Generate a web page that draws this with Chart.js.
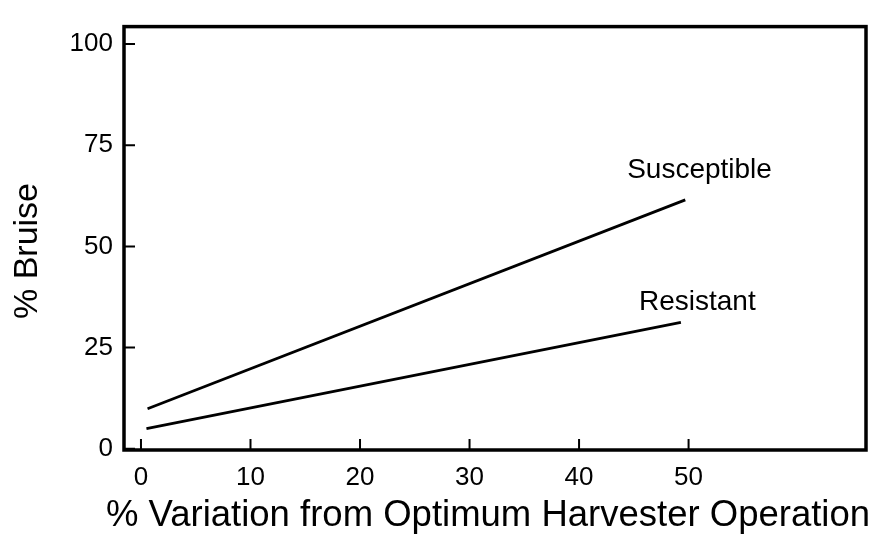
<!DOCTYPE html>
<html>
<head>
<meta charset="utf-8">
<script src="https://cdn.jsdelivr.net/npm/chart.js@4/dist/chart.umd.min.js"></script>
<style>
  html, body { margin: 0; padding: 0; background: #fff; }
  #wrap { width: 889px; height: 557px; }
</style>
</head>
<body>
<div id="wrap"><canvas id="bruiseChart"></canvas></div>
<script>
// values (x = % variation, y = % bruise)
const xTicks = [0, 10, 20, 30, 40, 50];
const yTicks = [0, 25, 50, 75, 100];
const susceptibleX = [0.6, 49.7];
const susceptibleY = [9.9, 61.5];
const resistantX = [0.5, 49.3];
const resistantY = [5.0, 31.2];
const seriesNames = ['Susceptible', 'Resistant'];
const labelAt = [[51.0, 68.8], [50.8, 36.2]];

const FONT = '"Liberation Sans", Arial, Helvetica, sans-serif';

function toPoints(xs, ys) {
  return xs.map((x, i) => ({ x: x, y: ys[i] }));
}

// frame, inward ticks, titles and line labels
const framePlugin = {
  id: 'frame',
  afterDraw(chart) {
    const ctx = chart.ctx;
    const a = chart.chartArea;
    const xs = chart.scales.x;
    const ys = chart.scales.y;
    ctx.save();
    ctx.strokeStyle = '#000';
    ctx.lineWidth = 3.5;
    ctx.strokeRect(a.left, a.top, a.right - a.left, a.bottom - a.top);

    ctx.lineWidth = 2;
    ctx.beginPath();
    xTicks.forEach(v => {
      const px = xs.getPixelForValue(v);
      ctx.moveTo(px, a.bottom);
      ctx.lineTo(px, a.bottom - 11);
    });
    yTicks.forEach(v => {
      const py = ys.getPixelForValue(v);
      ctx.moveTo(a.left, py);
      ctx.lineTo(a.left + 11, py);
    });
    ctx.stroke();

    ctx.fillStyle = '#000';
    ctx.textAlign = 'center';
    ctx.textBaseline = 'middle';
    ctx.font = '28px ' + FONT;
    seriesNames.forEach((name, i) => {
      ctx.fillText(name, xs.getPixelForValue(labelAt[i][0]), ys.getPixelForValue(labelAt[i][1]));
    });

    ctx.font = '36.5px ' + FONT;
    ctx.fillText('% Variation from Optimum Harvester Operation', 488, 516);

    ctx.save();
    ctx.translate(28, 251);
    ctx.rotate(-Math.PI / 2);
    ctx.font = '34px ' + FONT;
    ctx.fillText('% Bruise', 0, 0);
    ctx.restore();
    ctx.restore();
  }
};

const ctx = document.getElementById('bruiseChart').getContext('2d');
new Chart(ctx, {
  type: 'scatter',
  data: {
    datasets: [
      {
        label: seriesNames[0],
        data: toPoints(susceptibleX, susceptibleY),
        showLine: true,
        borderColor: '#000',
        borderWidth: 2.8,
        pointRadius: 0,
        fill: false
      },
      {
        label: seriesNames[1],
        data: toPoints(resistantX, resistantY),
        showLine: true,
        borderColor: '#000',
        borderWidth: 2.8,
        pointRadius: 0,
        fill: false
      }
    ]
  },
  options: {
    responsive: true,
    maintainAspectRatio: false,
    animation: false,
    layout: { padding: { left: 0, right: 23, top: 10, bottom: 0 } },
    plugins: {
      legend: { display: false },
      tooltip: { enabled: false }
    },
    scales: {
      x: {
        type: 'linear',
        min: -1.55,
        max: 66.2,
        afterBuildTicks: s => { s.ticks = xTicks.map(v => ({ value: v })); },
        afterFit: s => { s.height = 107; },
        grid: { display: false, drawTicks: false },
        border: { display: false },
        ticks: {
          color: '#000',
          padding: 12,
          maxRotation: 0,
          font: { family: FONT, size: 26 }
        }
      },
      y: {
        type: 'linear',
        min: -0.3,
        max: 104.3,
        afterBuildTicks: s => { s.ticks = yTicks.map(v => ({ value: v })); },
        afterFit: s => { s.width = 124; },
        grid: { display: false, drawTicks: false },
        border: { display: false },
        ticks: {
          color: '#000',
          padding: 11,
          font: { family: FONT, size: 26 }
        }
      }
    }
  },
  plugins: [framePlugin]
});
</script>
</body>
</html>
